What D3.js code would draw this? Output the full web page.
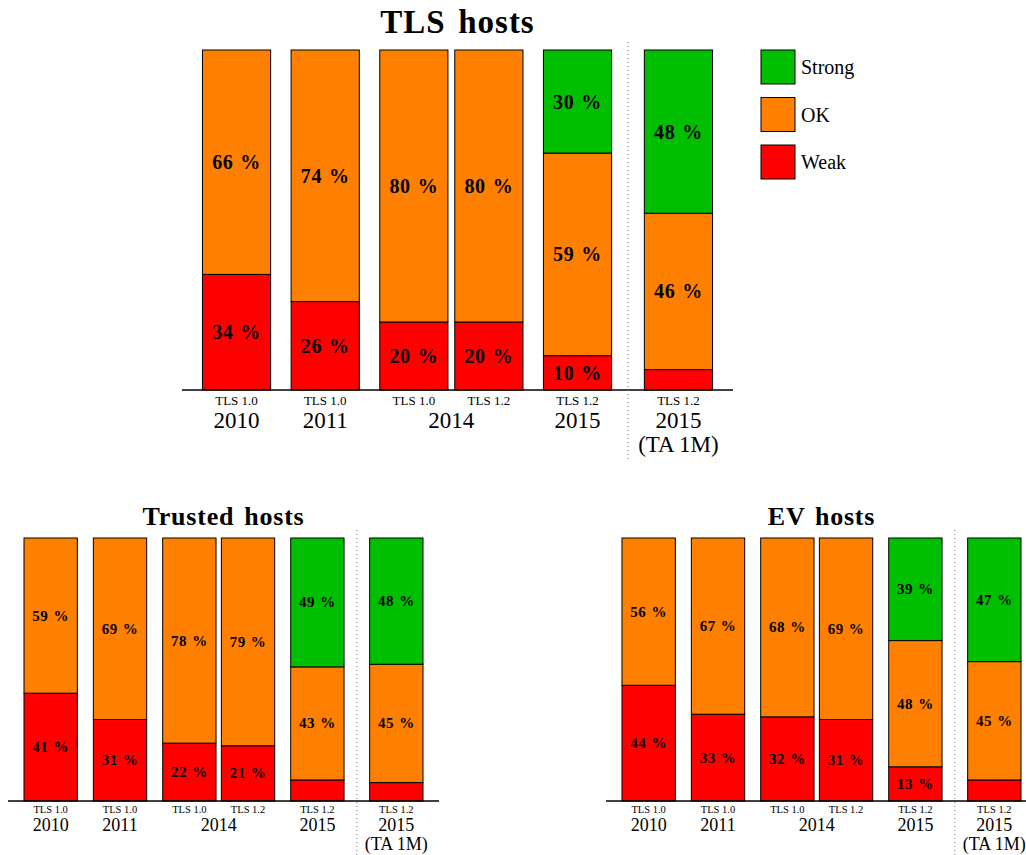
<!DOCTYPE html>
<html>
<head>
<meta charset="utf-8">
<script src="https://cdn.jsdelivr.net/npm/d3@7"></script>
<style>
  body { margin: 0; background: #fff; }
  svg { display: block; }
  text { font-family: "Liberation Serif", "DejaVu Serif", serif; fill: #000; }
</style>
</head>
<body>
<svg id="chart" width="1026" height="855"></svg>
<script>
// ---- data ----
const protocols = ["TLS 1.0", "TLS 1.0", "TLS 1.0", "TLS 1.2", "TLS 1.2", "TLS 1.2"];
const yearGroups = [
  { year: "2010", bars: [0] },
  { year: "2011", bars: [1] },
  { year: "2014", bars: [2, 3] },
  { year: "2015", bars: [4] },
  { year: "2015", sub: "(TA 1M)", bars: [5] }
];
const seriesNames = ["Weak", "OK", "Strong"];
const seriesColors = ["#ff0000", "#ff8000", "#00bf00"];

const tlsWeak     = [34, 26, 20, 20, 10, 6];
const tlsOK       = [66, 74, 80, 80, 59, 46];
const tlsStrong   = [0, 0, 0, 0, 30, 48];

const trustedWeak   = [41, 31, 22, 21, 8, 7];
const trustedOK     = [59, 69, 78, 79, 43, 45];
const trustedStrong = [0, 0, 0, 0, 49, 48];

const evWeak   = [44, 33, 32, 31, 13, 8];
const evOK     = [56, 67, 68, 69, 48, 45];
const evStrong = [0, 0, 0, 0, 39, 47];

// ---- drawing ----
const svg = d3.select("#chart");

// bar slot layout in units of bar width
const pairGap = 0.1, groupGap = 0.3, sepGap = 0.48;
function slotPositions() {
  const pos = [];
  let x = 0, sepX = null;
  yearGroups.forEach((g, gi) => {
    if (gi > 0) {
      if (g.sub) { sepX = x + sepGap / 2; x += sepGap; }
      else x += groupGap;
    }
    g.bars.forEach((b, bi) => {
      if (bi > 0) x += pairGap;
      pos[b] = x;
      x += 1;
    });
  });
  return { pos, end: x, sepX };
}
const layout = slotPositions();

function panel(opt) {
  const { title, weak, ok, strong, x0, x1, yTop, yBase, sepTop, sepBottom,
          titleY, titleSize, titleLS, valSize, protoSize, yearSize, protoDy, yearDy, subDy } = opt;
  const g = svg.append("g");
  const x = d3.scaleLinear().domain([-groupGap, layout.end + groupGap]).range([x0, x1]);
  const bw = x(1) - x(0);
  const stacks = weak.map((w, i) => {
    const vals = [w, ok[i], strong[i]];
    const total = d3.sum(vals);
    let acc = 0;
    return vals.map((v, s) => { const r = { s, v, y0: acc / total * 100, y1: (acc + v) / total * 100 }; acc += v; return r; });
  });
  const y = d3.scaleLinear().domain([0, 100]).range([yBase, yTop]);

  g.append("text").attr("x", (x0 + x1) / 2).attr("y", titleY)
    .attr("text-anchor", "middle").attr("font-weight", "bold")
    .attr("font-size", titleSize).attr("letter-spacing", titleLS).attr("word-spacing", titleSize * 0.1)
    .text(title);

  stacks.forEach((st, i) => {
    const bg = g.append("g");
    st.filter(d => d.v > 0).forEach(d => {
      bg.append("rect")
        .attr("x", x(layout.pos[i])).attr("width", bw)
        .attr("y", y(d.y1)).attr("height", y(d.y0) - y(d.y1))
        .attr("fill", seriesColors[d.s]).attr("stroke", "#000").attr("stroke-width", 1);
    });
    st.filter(d => d.v >= 10).forEach(d => {
      bg.append("text")
        .attr("x", x(layout.pos[i] + 0.5)).attr("y", (y(d.y0) + y(d.y1)) / 2)
        .attr("text-anchor", "middle").attr("dominant-baseline", "central")
        .attr("font-weight", "bold").attr("font-size", valSize)
        .attr("letter-spacing", valSize * 0.03).attr("word-spacing", valSize * 0.07)
        .text(d.v + " %");
    });
    g.append("text").attr("x", x(layout.pos[i] + 0.5)).attr("y", yBase + protoDy)
      .attr("text-anchor", "middle").attr("font-size", protoSize).text(protocols[i]);
  });

  yearGroups.forEach(gr => {
    const c = (x(layout.pos[gr.bars[0]]) + x(layout.pos[gr.bars[gr.bars.length - 1]] + 1)) / 2;
    g.append("text").attr("x", c).attr("y", yBase + yearDy)
      .attr("text-anchor", "middle").attr("font-size", yearSize).text(gr.year);
    if (gr.sub) {
      g.append("text").attr("x", c).attr("y", yBase + subDy)
        .attr("text-anchor", "middle").attr("font-size", yearSize).text(gr.sub);
    }
  });

  // axis baseline
  g.append("line").attr("x1", x0).attr("x2", x1).attr("y1", yBase).attr("y2", yBase)
    .attr("stroke", "#000").attr("stroke-width", 1.3);
  // dotted separator
  g.append("line").attr("x1", x(layout.sepX)).attr("x2", x(layout.sepX))
    .attr("y1", sepTop).attr("y2", sepBottom)
    .attr("stroke", "#777").attr("stroke-width", 1).attr("stroke-dasharray", "1,3");
}

panel({ title: "TLS hosts", weak: tlsWeak, ok: tlsOK, strong: tlsStrong,
  x0: 182, x1: 733, yTop: 50, yBase: 390, sepTop: 42, sepBottom: 460,
  titleY: 33, titleSize: 33, titleLS: 1, valSize: 20, protoSize: 13, yearSize: 23,
  protoDy: 15, yearDy: 38, subDy: 62 });

panel({ title: "Trusted hosts", weak: trustedWeak, ok: trustedOK, strong: trustedStrong,
  x0: 8, x1: 439, yTop: 538, yBase: 801, sepTop: 530, sepBottom: 855,
  titleY: 525, titleSize: 26, titleLS: 0.8, valSize: 15, protoSize: 10.5, yearSize: 18,
  protoDy: 12, yearDy: 30, subDy: 49 });

panel({ title: "EV hosts", weak: evWeak, ok: evOK, strong: evStrong,
  x0: 606, x1: 1037, yTop: 538, yBase: 801, sepTop: 530, sepBottom: 855,
  titleY: 525, titleSize: 26, titleLS: 0.8, valSize: 15, protoSize: 10.5, yearSize: 18,
  protoDy: 12, yearDy: 30, subDy: 49 });

// legend
const legendItems = [2, 1, 0];
const lg = svg.append("g");
legendItems.forEach((s, k) => {
  lg.append("rect").attr("x", 761).attr("y", 50 + k * 47.5).attr("width", 34).attr("height", 34)
    .attr("fill", seriesColors[s]).attr("stroke", "#000").attr("stroke-width", 1);
  lg.append("text").attr("x", 801).attr("y", 67 + k * 47.5).attr("dominant-baseline", "central")
    .attr("font-size", 20).text(seriesNames[s]);
});
</script>
</body>
</html>
